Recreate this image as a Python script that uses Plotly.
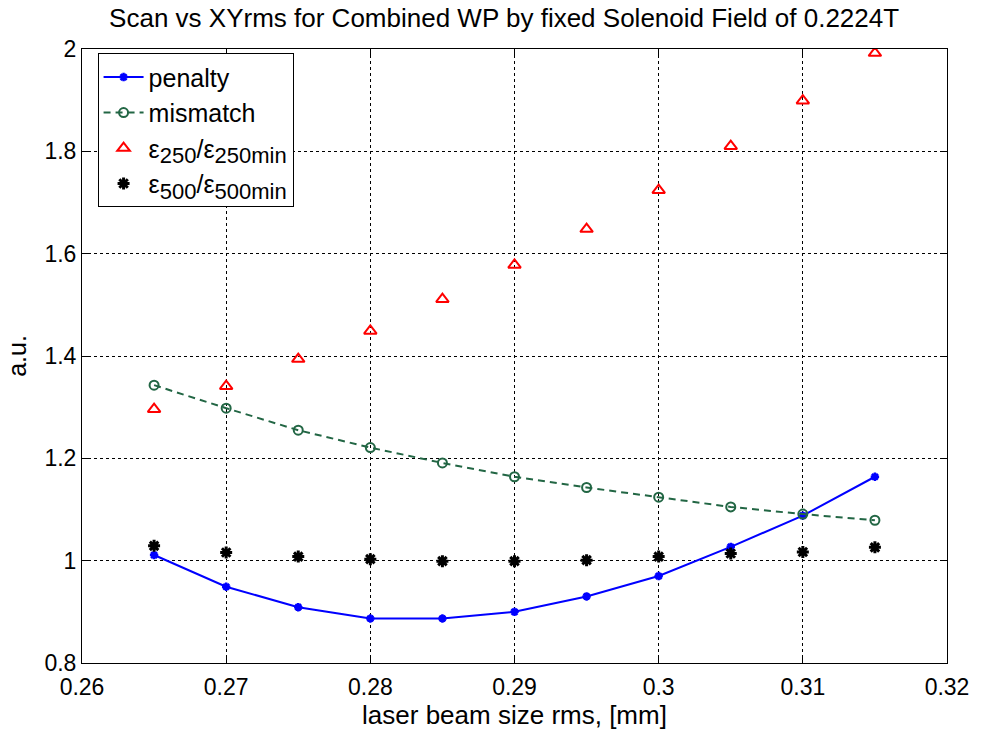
import plotly.graph_objects as go

x = [0.265, 0.27, 0.275, 0.28, 0.285, 0.29, 0.295, 0.30, 0.305, 0.31, 0.315]
penalty = [1.011, 0.949, 0.909, 0.887, 0.887, 0.900, 0.930, 0.970, 1.027, 1.088, 1.164]
mismatch = [1.343, 1.298, 1.255, 1.221, 1.191, 1.164, 1.143, 1.124, 1.105, 1.091, 1.079]
eps250 = [1.296, 1.341, 1.394, 1.449, 1.511, 1.578, 1.648, 1.724, 1.810, 1.899, 1.992]
eps500 = [1.029, 1.016, 1.008, 1.003, 0.999, 0.999, 1.001, 1.008, 1.014, 1.017, 1.026]

xticks = [0.26, 0.27, 0.28, 0.29, 0.30, 0.31, 0.32]
xticklabels = ["0.26", "0.27", "0.28", "0.29", "0.3", "0.31", "0.32"]
yticks = [0.8, 1.0, 1.2, 1.4, 1.6, 1.8, 2.0]
yticklabels = ["0.8", "1", "1.2", "1.4", "1.6", "1.8", "2"]

FONT = "Liberation Sans, Arial, sans-serif"

def sub(t):
    return "<sub><span style=\"font-size:22px\">" + t + "</span></sub>"

fig = go.Figure()
fig.add_trace(go.Scatter(
    x=x, y=penalty, mode="lines+markers", name="penalty",
    line=dict(color="#0000ff", width=2),
    marker=dict(symbol="asterisk-open", size=7, color="#0000ff", line=dict(color="#0000ff", width=2.5)),
))
fig.add_trace(go.Scatter(
    x=x, y=mismatch, mode="lines+markers", name="mismatch",
    line=dict(color="#226644", width=2, dash="7px,5px"),
    marker=dict(symbol="circle-open", size=9, color="#226644", line=dict(color="#226644", width=2)),
))
fig.add_trace(go.Scatter(
    x=x, y=eps250, mode="markers", name="ε" + sub("250") + "/ε" + sub("250min"),
    marker=dict(symbol="triangle-up-open", size=11, color="#ff0000", line=dict(color="#ff0000", width=2)),
))
fig.add_trace(go.Scatter(
    x=x, y=eps500, mode="markers", name="ε" + sub("500") + "/ε" + sub("500min"),
    marker=dict(symbol="asterisk-open", size=10, color="#000000", line=dict(color="#000000", width=3)),
))

axis_common = dict(
    showline=True, linecolor="black", linewidth=1, mirror="ticks",
    ticks="inside", ticklen=6, tickcolor="black",
    showgrid=True, gridcolor="black", gridwidth=1, griddash="3px,3px",
    zeroline=False, tickfont=dict(family=FONT, size=23, color="black"),
)

fig.update_xaxes(range=[0.26, 0.32], tickvals=xticks, ticktext=xticklabels,
                 ticklabelstandoff=3,
                 title=dict(text="laser beam size rms, [mm]", font=dict(family=FONT, size=26, color="black"), standoff=0),
                 **axis_common)
fig.update_yaxes(range=[0.8, 2.0], tickvals=yticks, ticktext=yticklabels,
                 title=dict(text="a.u.", font=dict(family=FONT, size=25, color="black"), standoff=10),
                 **axis_common)

fig.update_layout(
    width=981, height=731,
    margin=dict(l=82, r=30, t=49, b=68),
    paper_bgcolor="white", plot_bgcolor="white",
    title=dict(text="Scan vs XYrms for Combined WP by fixed Solenoid Field of 0.2224T",
               x=0.488, xref="paper", xanchor="center", y=0.976, yanchor="middle",
               font=dict(family=FONT, size=26, color="black")),
    legend=dict(x=0.018, y=0.993, xanchor="left", yanchor="top",
                bgcolor="white", bordercolor="black", borderwidth=1,
                font=dict(family=FONT, size=25, color="black"),
                itemwidth=40, tracegroupgap=0),
    showlegend=True,
)

fig.write_html("out.html", config={"displayModeBar": False},
               post_script="document.body.style.margin='0';document.body.style.overflow='hidden';")
